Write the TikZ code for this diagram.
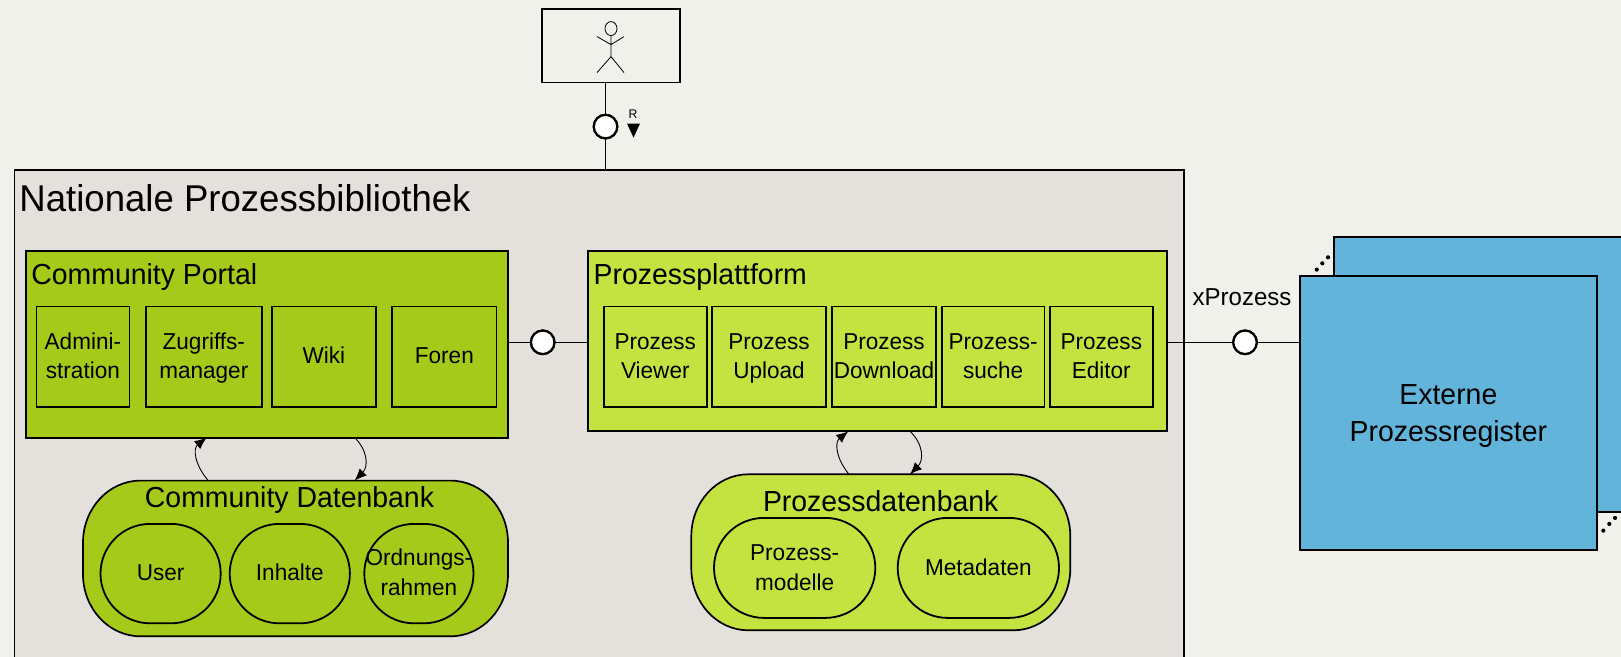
\documentclass[tikz,border=0pt]{standalone}
\usepackage{fontspec}
\setmainfont[FakeStretch=0.98]{Liberation Sans}
\usetikzlibrary{arrows.meta,shapes.misc}
\definecolor{bgc}{HTML}{F1F1EC}
\definecolor{mainc}{HTML}{E4E0DC}
\definecolor{portalc}{HTML}{A6CA1A}
\definecolor{platc}{HTML}{C4E340}
\definecolor{extc}{HTML}{63B4DA}
\newcommand\stra{\vrule width 0pt height 21.8pt depth 7.2pt\relax}
\newcommand\strb{\vrule width 0pt height 20.9pt depth 8.1pt\relax}
\newcommand\strc{\vrule width 0pt height 28.5pt depth 8.5pt\relax}
\newcommand\softbox[4]{%
  \path[softline,fill=#4]
   ([xshift=#2]#1.north west) -- ([xshift=-#2]#1.north east)
   .. controls ([xshift=-0.448*#2]#1.north east) and ([yshift=-0.448*#3]#1.north east) .. ([yshift=-#3]#1.north east)
   -- ([yshift=#3]#1.south east)
   .. controls ([yshift=0.448*#3]#1.south east) and ([xshift=-0.448*#2]#1.south east) .. ([xshift=-#2]#1.south east)
   -- ([xshift=#2]#1.south west)
   .. controls ([xshift=0.448*#2]#1.south west) and ([yshift=0.448*#3]#1.south west) .. ([yshift=#3]#1.south west)
   -- ([yshift=-#3]#1.north west)
   .. controls ([yshift=-0.448*#3]#1.north west) and ([xshift=0.448*#2]#1.north west) .. cycle;}
\tikzset{
  softline/.style={draw=black,line width=1.7pt},
  base box/.style={draw=black,line width=1.8pt,inner sep=0pt,outer sep=0pt,align=center,text=black},
  maincontainer/.style={base box,fill=mainc},
  portalbox/.style={base box,fill=portalc,minimum height=100.3pt,font=\fontsize{23}{29}\selectfont},
  platbox/.style={base box,fill=platc,minimum height=100.3pt,font=\fontsize{23}{29}\selectfont},
  portalround/.style={base box,rounded rectangle,fill=portalc,minimum height=99.4pt,font=\fontsize{23}{28.3}\selectfont},
  platround/.style={base box,rounded rectangle,fill=platc,minimum height=100pt,font=\fontsize{23}{28.3}\selectfont},
  extbox/.style={base box,fill=extc,font=\fontsize{29}{37}\selectfont},
  iface/.style={circle,draw=black,fill=white,line width=2.2pt,minimum size=23.5pt,inner sep=0pt,outer sep=0pt},
  wire/.style={draw=black,line width=1.3pt},
  loop/.style={draw=black,line width=0.9pt,-{Latex[length=12pt,width=10pt]}},
  title/.style={anchor=base west,inner sep=0pt,outer sep=0pt,text=black},
  ctitle/.style={anchor=base,inner sep=0pt,outer sep=0pt,text=black},
  person/.style={draw=black,line width=0.8pt},
  dot/.style={fill=black},
  ghost/.style={inner sep=0pt,outer sep=0pt}
}
\begin{document}
\begin{tikzpicture}[x=1pt,y=-1pt,yshift=-0.6pt]
\useasboundingbox (0,-0.6) rectangle (1621,655.4);
\clip (0,-0.6) rectangle (1621,655.4);
\fill[bgc] (0,-1) rectangle (1621,657);
% main
\node[maincontainer,minimum width=1169.5pt,minimum height=520.7pt] (main) at (599.25,429.65) {};
\node[title,font=\fontsize{37.3}{37.3}\selectfont] (maint) at (19.5,210.4) {Nationale Prozessbibliothek};
% actor
\node[base box,minimum width=138pt,minimum height=73.7pt] (actor) at (611,45) {};
\draw[person] (611,28) ellipse [x radius=6pt,y radius=7pt];
\draw[person] (611,35) -- (611,56) (597,36) -- (611,44) -- (624,36) (597,72) -- (611,56) -- (624,72);
\node[iface] (ir) at (605.5,126) {};
\coordinate (mtop) at (605.5,169.3);
\draw[wire] (actor.south -| ir) -- (ir) -- (mtop);
\node[iface] at (ir) {};
\node[ctitle,font=\fontsize{12.5}{12.5}\selectfont] (rl) at (633,118) {R};
\fill[black] (627,123) -- (640,123) -- (633.5,137) -- cycle;
% external
\node[extbox,minimum width=326.3pt,minimum height=274.3pt] (back) at (1496.85,373.85) {};
\node[extbox,minimum width=297.3pt,minimum height=273.3pt] (ext) at (1448.35,412.35) {\strc Externe\\\strc Prozessregister};
\foreach \x/\y in {1316.7/269,1322.3/262.7,1328/256.7,1603.3/530,1609.3/523.3,1615/517.3}
  \fill[dot] (\x,\y) circle [radius=2.1pt];
% portal
\node[base box,fill=portalc,minimum width=482.4pt,minimum height=187pt] (portal) at (266.8,343.5) {};
\node[title,font=\fontsize{29}{29}\selectfont] (portalt) at (31.4,283.7) {Community Portal};
\node[portalbox,minimum width=93pt] (admin) at (82.9,356) {\stra Admini-\\\stra stration};
\node[portalbox,minimum width=116pt] (zug) at (203.8,356) {\stra Zugriffs-\\\stra manager};
\node[portalbox,minimum width=103.8pt] (wiki) at (323.9,356) {\strb Wiki};
\node[portalbox,minimum width=104.1pt] (foren) at (444.35,356) {\strb Foren};
% platform
\node[base box,fill=platc,minimum width=578.8pt,minimum height=180pt] (plat) at (877.6,340.7) {};
\node[title,font=\fontsize{29}{29}\selectfont] (platt) at (593.7,283.7) {Prozessplattform};
\node[platbox,minimum width=103.4pt] (viewer) at (655.3,356) {\stra Prozess\\\stra Viewer};
\node[platbox,minimum width=114pt] (upload) at (769,356) {\stra Prozess\\\stra Upload};
\node[platbox,minimum width=104pt] (download) at (884,356) {\stra Prozess\\\stra Download};
\node[platbox,minimum width=102.8pt] (suche) at (993.1,356) {\stra Prozess-\\\stra suche};
\node[platbox,minimum width=103.4pt] (editor) at (1101.3,356) {\stra Prozess\\\stra Editor};
% interfaces
\node[iface] (ia) at (542.7,341.7) {};
\node[iface] (ib) at (1245,341.7) {};
\draw[wire] (portal.east |- ia) -- (ia) -- (plat.west |- ia);
\draw[wire] (plat.east |- ib) -- (ib) -- (ext.west |- ib);
\node[iface] at (ia) {};
\node[iface] at (ib) {};
\node[ctitle,font=\fontsize{24.5}{24.5}\selectfont] (xp) at (1242,305) {xProzess};
% community db
\node[ghost,minimum width=425pt,minimum height=155.7pt] (cdb) at (295.5,557.85) {};
\softbox{cdb}{57.5pt}{62pt}{portalc}
\node[ctitle,font=\fontsize{29}{29}\selectfont] (cdbt) at (289.5,507.1) {Community Datenbank};
\node[portalround,minimum width=120.2pt] (user) at (160.6,573) {\stra User};
\node[portalround,minimum width=120.2pt] (inhalte) at (289.8,573) {\stra Inhalte};
\node[portalround,minimum width=109.2pt] (ord) at (418.9,573) {\stra\makebox[0pt]{Ordnungs-}\\\stra\makebox[0pt]{rahmen}};
% process db
\node[ghost,minimum width=379pt,minimum height=156pt] (pdb) at (880.8,551.7) {};
\softbox{pdb}{57pt}{62pt}{platc}
\node[ctitle,font=\fontsize{29}{29}\selectfont] (pdbt) at (880.7,511.1) {Prozessdatenbank};
\node[platround,minimum width=161.3pt] (pm) at (794.65,567.3) {\stra Prozess-\\\stra modelle};
\node[platround,minimum width=161.3pt] (meta) at (978.35,567.3) {\stra Metadaten};
% loops
\draw[loop] ([xshift=-87.2pt]cdb.north) .. controls ([xshift=-101pt,yshift=16pt]cdb.north) and ([xshift=-74pt,yshift=-11pt]portal.south) .. ([xshift=-60.2pt]portal.south);
\draw[loop] ([xshift=87.9pt]portal.south) .. controls ([xshift=101pt,yshift=-13pt]portal.south) and ([xshift=73pt,yshift=14pt]cdb.north) .. ([xshift=59.2pt]cdb.north);
\draw[loop] ([xshift=-31.8pt]pdb.north) .. controls ([xshift=-45pt,yshift=16pt]pdb.north) and ([xshift=-43pt,yshift=-11pt]plat.south) .. ([xshift=-29.3pt]plat.south);
\draw[loop] ([xshift=32.4pt]plat.south) .. controls ([xshift=46pt,yshift=-13pt]plat.south) and ([xshift=43pt,yshift=14pt]pdb.north) .. ([xshift=29.2pt]pdb.north);
\end{tikzpicture}
\end{document}
